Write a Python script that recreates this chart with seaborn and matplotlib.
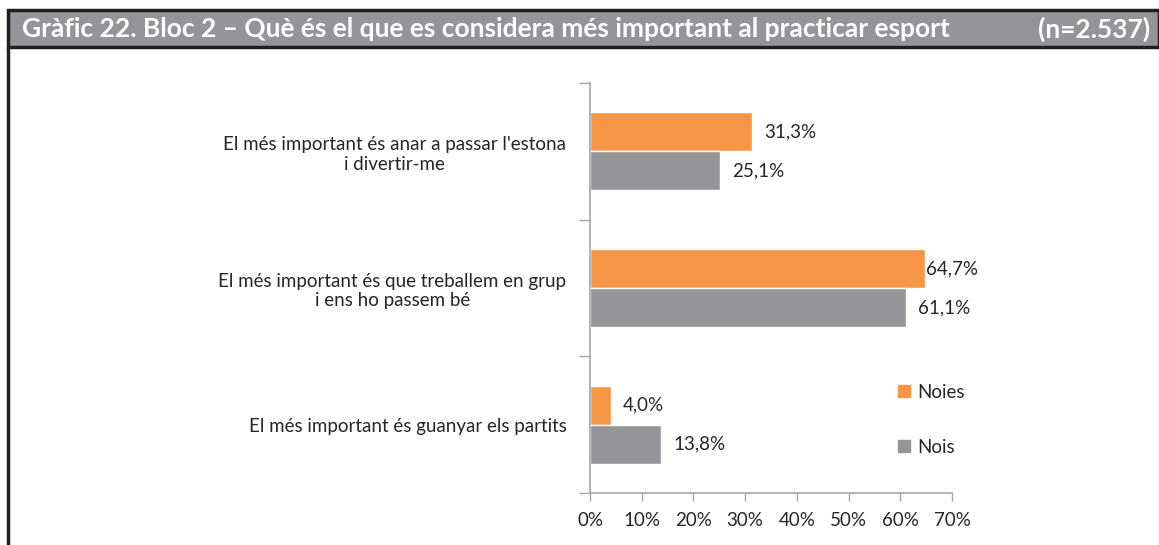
import pandas as pd
import matplotlib.pyplot as plt
import matplotlib.patches as mpatches
import matplotlib.lines as mlines
import seaborn as sns

# data
categories = [
    "El més important és anar a passar l'estona\ni divertir-me",
    "El més important és que treballem en grup\ni ens ho passem bé",
    "El més important és guanyar els partits",
]
noies = [31.3, 64.7, 4.0]
nois = [25.1, 61.1, 13.8]
series_names = ["Noies", "Nois"]
x_ticks = [0, 10, 20, 30, 40, 50, 60, 70]

ORANGE = "#F79646"
GREY = "#939598"
TEXT = "#262626"
FS = 13.5

df = pd.DataFrame({
    "cat": categories * 2,
    "serie": [series_names[0]] * 3 + [series_names[1]] * 3,
    "valor": noies + nois,
})

sns.set_theme(style="white")
plt.rcParams["font.family"] = ["Lato", "DejaVu Sans"]

W, H = 1159, 545
fig = plt.figure(figsize=(W / 100, H / 100), dpi=100)
ax = fig.add_axes([590 / W, 1 - 493 / H, 362 / W, 410 / H])

sns.barplot(data=df, y="cat", x="valor", hue="serie", order=categories,
            hue_order=series_names, palette=[ORANGE, GREY], width=0.57,
            orient="h", ax=ax, legend=False, saturation=1)

ax.set_xlim(0, 70)
ax.set_ylim(2.5, -0.5)
ax.set_xticks(x_ticks)
ax.set_xticklabels([f"{t}%" for t in x_ticks], fontsize=FS, color=TEXT)
ax.set_yticks([-0.5, 0.5, 1.5, 2.5])
ax.set_yticklabels([])
ax.set_yticks(range(len(categories)), minor=True)
ax.set_yticklabels(categories, minor=True, fontsize=FS, color=TEXT, ha="right")
ax.tick_params(axis="y", which="minor", length=0, pad=17)
ax.tick_params(axis="y", which="major", length=8, width=1, color="#a6a6a6", left=True)
ax.tick_params(axis="x", length=6, width=1, color="#a6a6a6", bottom=True, pad=8)
for lbl in ax.get_yticklabels(minor=True):
    lbl.set_multialignment("center")
ax.set_xlabel("")
ax.set_ylabel("")
for s in ["top", "right"]:
    ax.spines[s].set_visible(False)
for s in ["left", "bottom"]:
    ax.spines[s].set_color("#a6a6a6")
    ax.spines[s].set_linewidth(1.2)

# value labels, pushed against the bar when there is no room on the right
for cont in ax.containers:
    for bar in cont:
        v = bar.get_width()
        pad = 12 if v < 63 else 1
        ax.annotate(f"{v:.1f}%".replace(".", ","),
                    (v, bar.get_y() + bar.get_height() / 2),
                    xytext=(pad, 0), textcoords="offset pixels",
                    va="center", ha="left", fontsize=FS, color=TEXT, annotation_clip=False)

handles = [mpatches.Patch(color=ORANGE, label=series_names[0]),
           mpatches.Patch(color=GREY, label=series_names[1])]
ax.legend(handles=handles, loc="upper left", bbox_to_anchor=(0.805, 0.307),
          frameon=False, handlelength=0.6, handleheight=0.6, handletextpad=0.4,
          labelspacing=2.0, fontsize=FS, labelcolor=TEXT)

# title bar and frame
fig.patches.append(mpatches.Rectangle((8 / W, 1 - 47 / H), 1 - 8 / W, 37 / H,
                                      transform=fig.transFigure, facecolor=GREY,
                                      edgecolor="#231f20", linewidth=2.5, zorder=0))
fig.lines.append(mlines.Line2D([8 / W, 8 / W], [0, 1 - 47 / H], transform=fig.transFigure,
                               color="#231f20", linewidth=2.5))
fig.text(22 / W, 1 - 29 / H,
         "Gràfic 22. Bloc 2 \u2013 Què és el que es considera més important al practicar esport",
         color="white", fontsize=19, fontweight="bold", va="center", ha="left")
fig.text(1150 / W, 1 - 29 / H, "(n=2.537)", color="white", fontsize=19,
         fontweight="bold", va="center", ha="right")

fig.savefig("out.png", dpi=100)
